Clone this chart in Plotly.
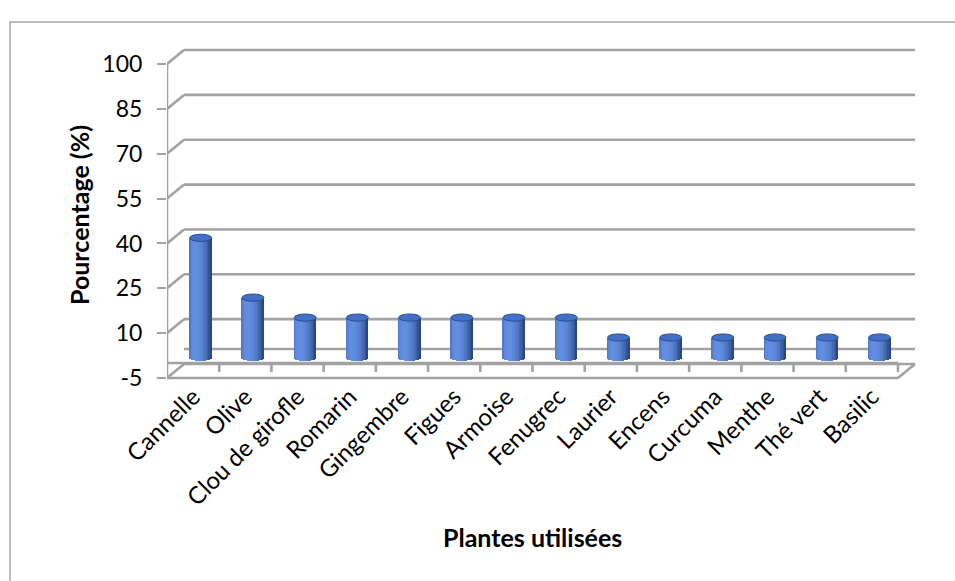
import math
import plotly.graph_objects as go

# ---- data ----
plantes = ["Cannelle", "Olive", "Clou de girofle", "Romarin", "Gingembre", "Figues",
           "Armoise", "Fenugrec", "Laurier", "Encens", "Curcuma", "Menthe",
           "Thé vert", "Basilic"]
pourcentages = [40, 20, 13.33, 13.33, 13.33, 13.33, 13.33, 13.33,
                6.67, 6.67, 6.67, 6.67, 6.67, 6.67]
graduations = [-5, 10, 25, 40, 55, 70, 85, 100]
titre_x = "Plantes utilisées"
titre_y = "Pourcentage (%)"

# ---- geometry (pixels) ----
W, H = 955, 581
L, R, T, B = 167, 917, 40, 382          # plot area
CAT_PX = 731 / len(plantes)             # width of one category on the front edge
UNIT_PX = 2.99                          # pixels per percentage point
Y_MIN_PX = 378                          # front position of the lowest graduation

n = len(plantes)
x_lo = -0.5
x_hi = (R - L) / CAT_PX - 0.5
y_hi = (Y_MIN_PX - T) / UNIT_PX + graduations[0]
y_lo = (Y_MIN_PX - B) / UNIT_PX + graduations[0]

DX = 17 / CAT_PX       # depth shift of the back wall (x data units)
DY = 14 / UNIT_PX      # depth shift of the back wall (y data units)
x_end = n - 0.5

GRID = dict(color="#a2a2a2", width=2.6)
FONT = "Lato, Carlito, Calibri, sans-serif"


def px_x(p):
    return (p - L) / (R - L)


def px_y(p):
    return (B - p) / (B - T)


shapes = []


def seg(x0, y0, x1, y1, layer="below", line=GRID):
    shapes.append(dict(type="line", xref="x", yref="y", x0=x0, y0=y0, x1=x1, y1=y1,
                       line=line, layer=layer))


# back wall gridlines + left wall diagonals
for g in graduations:
    seg(x_lo + DX, g + DY, x_end + DX, g + DY)
    seg(x_lo, g, x_lo + DX, g + DY)
# front vertical axis
seg(x_lo, graduations[0], x_lo, graduations[-1])
# floor slab at 0
seg(x_lo, 0, x_end, 0)
seg(x_lo + DX, DY, x_end + DX, DY)
seg(x_lo, graduations[0], x_end, graduations[0])
seg(x_end, graduations[0], x_end + DX, graduations[0] + DY)
# category tick marks between plants
for i in range(n):
    seg(i + 0.5, 0, i + 0.5, -9 / UNIT_PX)

# ---- cylinders ----
fig = go.Figure()
xoff = 0.45 * DX
yoff = 0.4 * DY
wb = 22 / CAT_PX
ell = 3.6 / UNIT_PX
N = 16
dark = (26, 50, 104)
light = (98, 142, 226)

for k in range(N):
    t = -1 + (2 * k + 1) / N
    theta = math.asin(t)
    lam = max(0.0, math.cos(theta + 0.45))
    f = 0.22 + 0.78 * lam
    col = "rgb({},{},{})".format(*[round(d + (l - d) * f) for d, l in zip(dark, light)])
    drop = ell * math.sqrt(max(0.0, 1 - t * t))
    fig.add_trace(go.Bar(
        x=[i + xoff + t * wb / 2 for i in range(n)],
        y=[v + drop for v in pourcentages],
        base=yoff - drop,
        width=wb / N * 1.08,
        marker=dict(color=col, line=dict(width=0)),
        hoverinfo="skip",
        showlegend=False,
    ))

# elliptical tops
for i, v in enumerate(pourcentages):
    shapes.append(dict(type="circle", xref="x", yref="y",
                       x0=i + xoff - wb / 2, x1=i + xoff + wb / 2,
                       y0=v + yoff - ell, y1=v + yoff + ell,
                       fillcolor="#4270c4", line=dict(color="#2a4d90", width=1),
                       layer="above"))

# outer chart border
shapes.append(dict(type="rect", xref="paper", yref="paper",
                   x0=px_x(10), x1=px_x(962), y0=px_y(600), y1=px_y(22),
                   line=dict(color="#a6a6a6", width=1.5), fillcolor="rgba(0,0,0,0)",
                   layer="below"))

annotations = [
    dict(text=titre_y, xref="paper", yref="paper", x=px_x(79), y=px_y(215),
         textangle=-90, showarrow=False, xanchor="center", yanchor="middle",
         font=dict(family=FONT, size=25, color="black", weight="bold")),
    dict(text=titre_x, xref="paper", yref="paper", x=px_x(532), y=px_y(537),
         showarrow=False, xanchor="center", yanchor="middle",
         font=dict(family=FONT, size=25, color="black", weight="bold")),
]

fig.update_layout(
    width=W, height=H,
    margin=dict(l=L, r=W - R, t=T, b=H - B, autoexpand=False),
    paper_bgcolor="white", plot_bgcolor="white",
    barmode="overlay", bargap=0,
    showlegend=False,
    shapes=shapes,
    annotations=annotations,
    font=dict(family=FONT, color="black"),
    xaxis=dict(range=[x_lo, x_hi], tickvals=list(range(n)), ticktext=plantes,
               tickangle=-45, ticks="", showgrid=False, zeroline=False,
               showline=False, tickfont=dict(size=24, family=FONT, color="black"),
               ticklabelstandoff=-5,
               automargin=False, fixedrange=True),
    yaxis=dict(range=[y_lo, y_hi], tickvals=graduations,
               ticktext=[str(g) for g in graduations],
               ticks="outside", ticklen=9, tickwidth=2, tickcolor="#a2a2a2",
               ticklabelstandoff=10,
               showgrid=False, zeroline=False, showline=False,
               tickfont=dict(size=23, family=FONT, color="black"),
               automargin=False, fixedrange=True),
)

fig.write_html("out.html")
